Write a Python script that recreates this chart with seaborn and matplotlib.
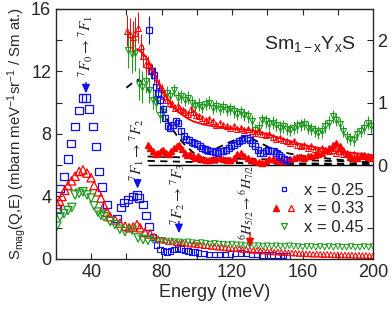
import numpy as np
import seaborn as sns
import matplotlib
matplotlib.use("Agg")
import matplotlib.pyplot as plt
from matplotlib.lines import Line2D
from matplotlib.legend_handler import HandlerTuple
from matplotlib.ticker import FixedLocator, NullFormatter

# ---- main panel data (x = 0.25, 0.33, 0.45), low Ei and high Ei parts ----
e_blue_lo = [20.5, 22.3, 24.5, 26.8, 28.6, 30.8, 33.0, 34.9, 37.0, 38.8, 41.0, 42.8, 44.5,
             46.2, 49.0, 54.6, 56.9, 58.7, 60.9, 63.7, 66.0, 67.2, 69.4, 71.1, 72.8]
s_blue_lo = [3.2, 4.5, 5.3, 6.4, 7.4, 8.5, 9.5, 10.3, 10.3, 9.6, 8.5, 7.2, 5.6,
             4.6, 3.5, 2.6, 3.3, 3.6, 3.8, 4.0, 4.1, 3.9, 3.5, 2.8, 2.1]
e_blue_hi = [75, 77, 79, 81, 83, 85, 87, 89, 91, 93, 95, 97, 99, 101, 104, 107, 110, 113,
             116, 119, 122, 125, 128, 131, 134, 137, 140, 143, 146, 149, 151]
s_blue_hi = [1.4, 0.9, 0.6, 0.5, 0.45, 0.5, 0.6, 0.7, 0.65, 0.55, 0.5, 0.45, 0.45, 0.4, 0.35,
             0.3, 0.3, 0.28, 0.3, 0.32, 0.35, 0.38, 0.35, 0.3, 0.28, 0.25, 0.27, 0.25, 0.22,
             0.22, 0.2]

e_red_lo = [20.6, 22.0, 23.4, 25.0, 26.8, 28.8, 30.8, 33.1, 35.3, 37.6, 39.9, 41.6, 43.8,
            45.5, 47.3, 49.0, 50.7, 53.5, 56.3, 59.2, 61.5, 63.8, 66.0, 67.7, 70.5, 73.4]
s_red_lo = [3.5, 3.7, 4.0, 4.4, 4.7, 5.0, 5.3, 5.6, 5.7, 5.5, 5.2, 4.7, 4.3,
            3.9, 3.4, 3.0, 2.7, 2.5, 2.3, 2.1, 2.0, 2.05, 2.2, 2.0, 1.7, 1.6]
e_red_hi = [76, 78, 80, 82, 84, 86, 88, 90, 92, 94, 96, 98, 100, 102, 104, 106, 108, 110,
            112, 114, 116, 118, 120, 122, 124, 126, 128, 130, 132, 134, 136, 138, 140, 142,
            144, 146, 148, 150, 152, 154, 156, 158, 160, 162, 164, 166, 168, 170, 172, 174,
            176, 178, 180, 182, 184, 186, 188, 190, 192, 194, 196, 198, 200]
s_red_hi = [1.45, 1.3, 1.2, 1.2, 1.1, 1.15, 1.05, 1.0, 1.05, 1.0, 0.95, 0.95, 0.9, 0.9,
            0.85, 0.85, 0.8, 0.8, 0.75, 0.75, 0.7, 0.7, 0.68, 0.65, 0.65, 0.6, 0.62, 0.58,
            0.55, 0.55, 0.52, 0.5, 0.5, 0.48, 0.45, 0.45, 0.42, 0.4, 0.4, 0.38, 0.38, 0.35,
            0.35, 0.33, 0.33, 0.3, 0.32, 0.3, 0.28, 0.3, 0.28, 0.26, 0.27, 0.25, 0.26, 0.24,
            0.25, 0.23, 0.24, 0.22, 0.23, 0.21, 0.2]

e_green_lo = [20.5, 22.3, 24.5, 26.8, 29.0, 30.8, 33.1, 35.3, 37.6, 39.9, 41.6, 43.8, 45.5,
              47.3, 50.7, 53.5, 56.3, 59.2, 63.2, 66.6, 69.4, 72.2]
s_green_lo = [2.1, 2.7, 2.9, 3.1, 3.3, 4.1, 4.2, 4.3, 4.1, 3.9, 3.4, 3.0, 2.8,
              2.7, 2.4, 2.2, 1.9, 1.75, 1.85, 1.35, 1.25, 1.2]
e_green_hi = [75, 77.5, 80, 82.5, 85, 87.5, 90, 92.5, 95, 97.5, 100, 102.5, 105, 107.5, 110,
              112.5, 115, 117.5, 120, 122.5, 125, 127.5, 130, 132.5, 135, 137.5, 140, 142.5,
              145, 147.5, 150, 152.5, 155, 157.5, 160, 162.5, 165, 167.5, 170, 172.5, 175,
              177.5, 180, 182.5, 185, 187.5, 190, 192.5, 195, 197.5, 200]
s_green_hi = [1.2, 1.15, 1.2, 1.1, 1.15, 1.1, 1.1, 1.05, 1.1, 1.05, 1.0, 1.05, 1.0, 0.95, 1.0,
              0.95, 0.95, 0.9, 0.95, 0.9, 0.9, 0.85, 0.9, 0.85, 0.85, 0.8, 0.85, 0.8, 0.85,
              0.8, 0.8, 0.85, 0.8, 0.8, 0.75, 0.8, 0.8, 0.75, 0.8, 0.75, 0.8, 0.75, 0.8, 0.75,
              0.75, 0.8, 0.75, 0.75, 0.8, 0.75, 0.8]

# ---- inset data (right axis) ----
ei_blue = [73, 74.5, 75.5, 76.5, 78, 79, 80.5, 82, 83.5, 85, 86.5, 88, 89.5, 91, 92.5, 94,
           95.5, 97, 98.5, 100, 101.5, 103, 104.5, 106, 107.5, 109, 110.5, 112, 113.5, 115,
           116.5, 118, 119.5, 121, 122.5, 124, 125.5, 127, 128.5, 130, 131.5, 133, 134.5,
           136, 137.5, 139, 140.5, 142, 143.5, 145, 146.5, 148, 149.5, 151]
vi_blue = [2.16, 1.5, 1.45, 1.25, 1.15, 1.05, 0.9, 0.75, 0.62, 0.6, 0.65, 0.7, 0.68, 0.55,
           0.46, 0.42, 0.4, 0.37, 0.36, 0.34, 0.3, 0.28, 0.26, 0.24, 0.23, 0.22, 0.21, 0.2,
           0.22, 0.23, 0.24, 0.27, 0.3, 0.33, 0.36, 0.38, 0.41, 0.43, 0.44, 0.4, 0.36, 0.3,
           0.24, 0.2, 0.2, 0.22, 0.24, 0.23, 0.22, 0.2, 0.16, 0.13, 0.1, 0.08]
di_blue = [0.22, 0.12, 0.1, 0.1, 0.08, 0.08, 0.07, 0.06, 0.06, 0.05, 0.05, 0.05, 0.05, 0.05,
           0.05, 0.04, 0.04, 0.04, 0.04, 0.04, 0.04, 0.04, 0.04, 0.04, 0.04, 0.04, 0.04, 0.04,
           0.04, 0.04, 0.04, 0.04, 0.04, 0.04, 0.04, 0.04, 0.04, 0.04, 0.04, 0.04, 0.04, 0.04,
           0.04, 0.04, 0.04, 0.04, 0.04, 0.04, 0.04, 0.04, 0.04, 0.04, 0.04, 0.04]

ei_red = [60.5, 62, 63.5, 65, 66.5, 68, 69.5, 71, 72.5, 74, 75.5, 77, 78.5, 80, 81.5, 83,
          84.5, 86, 87.5, 89, 90.5, 92, 93.5, 95, 96.5, 98, 99.5, 101, 103, 105, 107, 109,
          111, 113, 115, 117, 119, 121, 123, 125, 127, 129, 131, 133, 135, 137, 139, 141,
          143, 145, 147, 149, 151, 153, 155, 157, 159, 161, 163, 165, 167, 169, 171, 173,
          175, 177, 179, 181, 183, 185, 187, 189, 191, 193, 195, 197, 199]
vi_red = [2.15, 2.1, 2.05, 2.12, 2.2, 1.9, 1.75, 1.62, 1.6, 1.52, 1.45, 1.35, 1.28, 1.22,
          1.1, 1.05, 1.0, 0.98, 0.92, 0.95, 0.9, 0.88, 0.85, 0.82, 0.9, 0.85, 0.8, 0.78,
          0.75, 0.72, 0.74, 0.7, 0.65, 0.68, 0.64, 0.62, 0.6, 0.62, 0.58, 0.6, 0.56, 0.58,
          0.55, 0.52, 0.55, 0.5, 0.48, 0.5, 0.45, 0.42, 0.44, 0.4, 0.38, 0.36, 0.38, 0.33,
          0.3, 0.32, 0.28, 0.3, 0.26, 0.25, 0.27, 0.24, 0.22, 0.25, 0.2, 0.22, 0.18, 0.2,
          0.16, 0.18, 0.15, 0.17, 0.14, 0.15, 0.12]
di_red = [0.25, 0.25, 0.25, 0.25, 0.25, 0.2, 0.18, 0.15, 0.15, 0.12, 0.12, 0.1, 0.1, 0.08,
          0.08, 0.07, 0.07, 0.06, 0.06, 0.06, 0.05, 0.05, 0.05, 0.05, 0.05, 0.05, 0.05, 0.04,
          0.04, 0.04, 0.04, 0.04, 0.04, 0.04, 0.04, 0.04, 0.04, 0.04, 0.04, 0.04, 0.04, 0.04,
          0.04, 0.04, 0.04, 0.04, 0.04, 0.04, 0.04, 0.04, 0.04, 0.04, 0.04, 0.04, 0.04, 0.04,
          0.04, 0.04, 0.04, 0.04, 0.04, 0.04, 0.04, 0.04, 0.04, 0.04, 0.04, 0.04, 0.04, 0.04,
          0.04, 0.04, 0.04, 0.04, 0.04, 0.04, 0.04]

ei_red_f = [72, 73.5, 75, 76.5, 78, 79.5, 81, 82.5, 84, 85.5, 87, 88.5, 90, 91.5, 93, 94.5,
            96, 97.5, 99, 100.5, 102, 103.5, 105, 107, 109, 111, 113, 115, 117, 119, 121,
            123, 125, 127, 129, 131, 133, 135, 137, 139, 141, 143, 145, 147, 149, 151, 153,
            155, 157, 159, 161, 163, 165, 167, 169, 171, 173, 175, 177, 179, 181, 183, 185,
            187, 189, 191, 193, 195, 197, 199]
vi_red_f = [0.33, 0.28, 0.22, 0.18, 0.2, 0.22, 0.24, 0.2, 0.18, 0.22, 0.27, 0.3, 0.33, 0.26,
            0.2, 0.16, 0.18, 0.14, 0.12, 0.15, 0.12, 0.1, 0.09, 0.08, 0.1, 0.12, 0.11, 0.1,
            0.08, 0.09, 0.12, 0.18, 0.2, 0.15, 0.11, 0.08, 0.06, 0.05, 0.04, 0.07, 0.1, 0.1,
            0.08, 0.06, 0.07, 0.09, 0.1, 0.12, 0.13, 0.13, 0.12, 0.14, 0.15, 0.16, 0.18, 0.2,
            0.24, 0.28, 0.32, 0.36, 0.3, 0.24, 0.18, 0.13, 0.11, 0.12, 0.14, 0.16, 0.13, 0.11]

ei_green = [61, 63, 65, 67, 69, 71, 73, 75, 77, 79, 81, 83, 85, 87, 89, 91, 93, 95, 97, 99,
            101, 103, 105, 107, 109, 111, 113, 115, 117, 119, 121, 123, 125, 127, 129, 131,
            133, 135, 137, 139, 141, 143, 145, 147, 149, 151, 153, 155, 157, 159, 161, 163,
            165, 167, 169, 171, 173, 175, 177, 179, 181, 183, 185, 187, 189, 191, 193, 195,
            197, 199]
vi_green = [1.85, 1.78, 1.8, 1.3, 1.25, 1.35, 1.2, 1.05, 1.0, 0.8, 0.85, 1.15, 1.1, 1.2, 1.08,
            1.1, 1.05, 1.08, 1.0, 0.95, 0.97, 0.93, 0.98, 1.0, 0.92, 0.95, 0.9, 0.93, 0.88,
            0.9, 0.86, 0.82, 0.85, 0.8, 0.78, 0.7, 0.56, 0.6, 0.72, 0.7, 0.66, 0.68, 0.65,
            0.6, 0.62, 0.58, 0.56, 0.6, 0.62, 0.64, 0.66, 0.6, 0.58, 0.55, 0.52, 0.54, 0.62,
            0.68, 0.78, 0.72, 0.66, 0.55, 0.45, 0.42, 0.4, 0.5, 0.55, 0.6, 0.68, 0.62]
di_green = [0.3, 0.3, 0.3, 0.25, 0.25, 0.2, 0.2, 0.15, 0.15, 0.12, 0.12, 0.12, 0.1, 0.1, 0.1,
            0.1, 0.1, 0.1, 0.1, 0.1, 0.1, 0.1, 0.1, 0.1, 0.1, 0.1, 0.1, 0.1, 0.1, 0.1, 0.1,
            0.1, 0.1, 0.1, 0.1, 0.1, 0.1, 0.1, 0.1, 0.1, 0.1, 0.1, 0.1, 0.1, 0.1, 0.1, 0.1,
            0.1, 0.1, 0.1, 0.1, 0.1, 0.1, 0.1, 0.1, 0.1, 0.1, 0.1, 0.1, 0.1, 0.1, 0.1, 0.1,
            0.1, 0.1, 0.1, 0.1, 0.1, 0.1, 0.1]

# fit curves in the inset
fit_red_e = [66, 69, 72, 75, 78, 81, 84, 87, 90, 94, 98, 104, 110, 120, 130, 140, 150, 157,
             165, 176, 188, 200]
fit_red_v = [1.86, 1.8, 1.7, 1.52, 1.33, 1.18, 1.03, 0.92, 0.84, 0.76, 0.7, 0.65, 0.62, 0.59,
             0.56, 0.5, 0.41, 0.35, 0.3, 0.24, 0.2, 0.16]
dash_a_e = [60, 64, 67, 70, 73, 76, 79, 82, 85, 89, 93, 98, 103, 110, 125, 150, 200]
dash_a_v = [1.24, 1.33, 1.37, 1.3, 1.18, 1.08, 0.97, 0.8, 0.62, 0.46, 0.33, 0.2, 0.1, 0.06,
            0.04, 0.03, 0.02]
dash_b_e = [72, 100, 130, 160, 200]
dash_b_v = [0.14, 0.12, 0.1, 0.08, 0.05]
dash_c_e = [72, 100, 130, 160, 200]
dash_c_v = [0.07, 0.05, 0.03, 0.02, 0.0]
dash_d_e = [98, 103, 107, 112, 117, 122, 127, 131, 135, 140, 145, 150, 160, 170, 180, 190, 200]
dash_d_v = [0.1, 0.16, 0.21, 0.28, 0.35, 0.41, 0.46, 0.43, 0.37, 0.3, 0.24, 0.2, 0.15, 0.12,
            0.09, 0.06, 0.04]

BLUE = "#1010f0"
RED = "#ff0000"
GREEN = "#1f9a1f"

sns.set_style("ticks")
plt.rcParams["font.family"] = ["Liberation Sans", "DejaVu Sans"]
plt.rcParams["mathtext.fontset"] = "custom"
plt.rcParams["mathtext.rm"] = "Liberation Sans"
plt.rcParams["mathtext.it"] = "Liberation Sans:italic"
plt.rcParams["font.size"] = 13

fig = plt.figure(figsize=(3.92, 3.12), dpi=100)
ax = fig.add_axes([0.1429, 0.1699, 0.8087, 0.8013])

# main panel markers
sns.scatterplot(x=e_blue_lo, y=s_blue_lo, marker="s", s=28, fc="none", ec=BLUE, lw=0.9, ax=ax)
sns.scatterplot(x=e_blue_hi, y=s_blue_hi, marker="s", s=16, fc="none", ec=BLUE, lw=0.8, ax=ax)
sns.scatterplot(x=e_red_lo, y=s_red_lo, marker="^", s=36, fc="none", ec=RED, lw=0.9, ax=ax)
sns.scatterplot(x=e_red_hi, y=s_red_hi, marker="^", s=16, fc="none", ec=RED, lw=0.7, ax=ax)
sns.scatterplot(x=e_green_lo, y=s_green_lo, marker="v", s=36, fc="none", ec=GREEN, lw=0.9, ax=ax)
sns.scatterplot(x=e_green_hi, y=s_green_hi, marker="v", s=16, fc="none", ec=GREEN, lw=0.7, ax=ax)

ax.set_xlim(20, 200)
ax.set_ylim(0, 16)
ax.xaxis.set_major_locator(FixedLocator([40, 80, 120, 160, 200]))
ax.xaxis.set_minor_locator(FixedLocator([20, 60, 100, 140, 180]))
ax.yaxis.set_major_locator(FixedLocator([0, 4, 8, 12, 16]))
ax.yaxis.set_minor_locator(FixedLocator([2, 6, 10, 14]))
ax.tick_params(which="both", direction="in", length=4, width=0.8, top=False, right=False,
               labelsize=13)
ax.set_xlabel("Energy (meV)", fontsize=13, labelpad=2)
ax.set_ylabel(r"S$_{\mathrm{mag}}$(Q,E) (mbarn meV$^{\mathrm{-1}}$sr$^{\mathrm{-1}}$ / Sm at.)",
              fontsize=10.8, labelpad=2)
for sp in ax.spines.values():
    sp.set_linewidth(0.9)
    sp.set_visible(True)

# top ticks belong to the inset
top = ax.secondary_xaxis("top")
top.xaxis.set_major_locator(FixedLocator([60, 80, 100, 120, 140, 160, 180]))
top.xaxis.set_major_formatter(NullFormatter())
top.tick_params(direction="in", length=4, width=0.8)

# inset on a twin axis (right scale)
ax2 = ax.twinx()
ax2.set_ylim(-1.5, 2.5)
ax2.yaxis.set_major_locator(FixedLocator([0, 1, 2]))
ax2.yaxis.set_minor_locator(FixedLocator([-1, -0.5, 0.5, 1.5]))
ax2.tick_params(which="both", direction="in", length=4, width=0.8, labelsize=13, pad=3)
ax2.hlines(0, 72, 200, color="black", lw=1.0, zorder=1)

sns.lineplot(x=dash_a_e, y=dash_a_v, color="black", lw=1.3, ls=(0, (4, 3)), sort=False,
             estimator=None, ax=ax2)
sns.lineplot(x=dash_b_e, y=dash_b_v, color="black", lw=1.3, ls=(0, (4, 3)), sort=False,
             estimator=None, ax=ax2)
sns.lineplot(x=dash_c_e, y=dash_c_v, color="black", lw=1.3, ls=(0, (4, 3)), sort=False,
             estimator=None, ax=ax2)
sns.lineplot(x=dash_d_e, y=dash_d_v, color="black", lw=1.3, ls=(0, (4, 3)), sort=False,
             estimator=None, ax=ax2)

ax2.plot(ei_red_f, vi_red_f, ls="none", marker="^", ms=5, color=RED, zorder=3)
ax2.errorbar(ei_green, vi_green, yerr=di_green, fmt="v", ms=5, mfc="none", mec=GREEN,
             ecolor=GREEN, elinewidth=0.8, mew=0.8, capsize=0, zorder=2)
ax2.errorbar(ei_red, vi_red, yerr=di_red, fmt="^", ms=4, mfc="none", mec=RED,
             ecolor=RED, elinewidth=0.7, mew=0.7, capsize=0, zorder=3)
ax2.errorbar(ei_blue, vi_blue, yerr=di_blue, fmt="s", ms=4.5, mfc="none", mec=BLUE,
             ecolor=BLUE, elinewidth=0.8, mew=0.9, capsize=0, zorder=4)
sns.lineplot(x=fit_red_e, y=fit_red_v, color=RED, lw=1.3, sort=False, estimator=None, ax=ax2,
             zorder=5)
ax2.set_xlim(20, 200)
ax2.set_ylabel("")

# transition arrows and labels
arrows = [(37.0, 11.3, 10.6, BLUE), (66.3, 5.1, 4.5, BLUE), (89.8, 2.4, 1.65, BLUE),
          (130.2, 1.7, 0.75, RED)]
for x0, y0, y1, c in arrows:
    ax.annotate("", xy=(x0, y1), xytext=(x0, y0),
                arrowprops=dict(arrowstyle="-|>,head_length=0.4,head_width=0.18", color=c,
                                lw=1.0, shrinkA=0, shrinkB=0))
trans_labels = [(37.0, 13.6, r"$^7F_0\rightarrow^7F_1$", 11),
                (65.8, 7.0, r"$^7F_1\rightarrow^7F_2$", 11),
                (89.3, 4.2, r"$^7F_2\rightarrow^7F_3$", 11),
                (128.5, 3.6, r"$^6H_{5/2}\rightarrow^6H_{7/2}$", 10)]
for x0, y0, t, fs in trans_labels:
    ax.text(x0, y0, t, rotation=90, ha="center", va="center", fontsize=fs,
            math_fontfamily="stix", color="#222222")

ax.text(0.8, 0.86, r"Sm$_{\mathrm{1-x}}$Y$_{\mathrm{x}}$S", transform=ax.transAxes,
        ha="center", va="center", fontsize=14)

# legend
h25 = Line2D([], [], ls="none", marker="s", ms=3.5, mfc="none", mec=BLUE, mew=0.9)
h33f = Line2D([], [], ls="none", marker="^", ms=4.5, color=RED)
h33o = Line2D([], [], ls="none", marker="^", ms=4.5, mfc="none", mec=RED, mew=0.9)
h45 = Line2D([], [], ls="none", marker="v", ms=4.5, mfc="none", mec=GREEN, mew=0.9)
ax2.legend([h25, (h33f, h33o), h45], ["x = 0.25", "x = 0.33", "x = 0.45"],
           handler_map={tuple: HandlerTuple(ndivide=None, pad=0.2)},
           loc="upper left", bbox_to_anchor=(0.655, 0.33), frameon=False, fontsize=12,
           handlelength=1.6, handletextpad=0.4, labelspacing=0.2, borderaxespad=0)

fig.savefig("out.png", dpi=100)
